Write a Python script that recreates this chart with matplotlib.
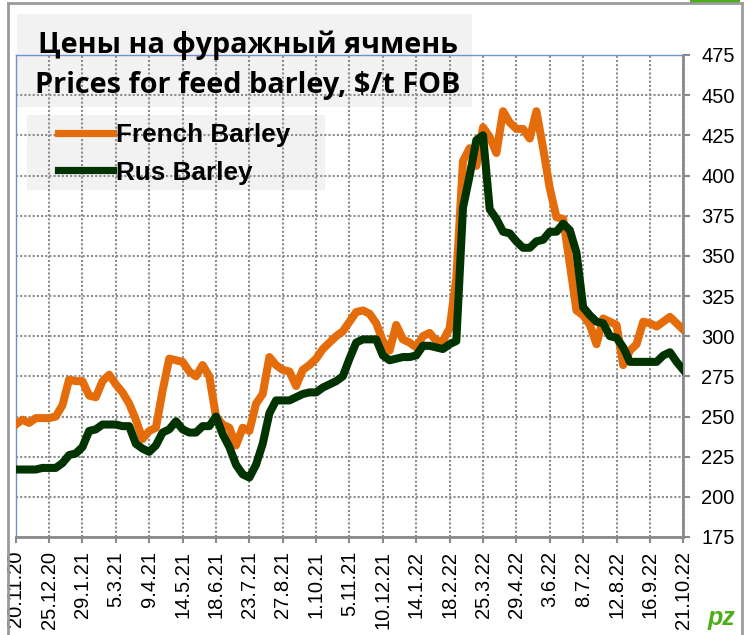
import matplotlib
matplotlib.use("Agg")
import matplotlib.pyplot as plt
from matplotlib.patches import Rectangle
from matplotlib.lines import Line2D

# weekly prices, 20.11.20 .. 21.10.22
french = [245, 248, 246, 249, 249, 249, 250, 257, 273, 272,
          272, 263, 262, 272, 276, 270, 265, 258, 248, 236,
          241, 243, 266, 286, 285, 284, 278, 275, 282, 275,
          250, 245, 243, 232, 243, 241, 258, 264, 287, 282,
          279, 278, 269, 279, 282, 286, 292, 296, 300, 303,
          309, 315, 316, 314, 308, 297, 291, 307, 298, 296,
          293, 300, 302, 297, 297, 305, 336, 409, 417, 406,
          430, 424, 414, 440, 433, 429, 429, 423, 440, 417,
          392, 374, 373, 345, 316, 313, 307, 295, 311, 309,
          307, 282, 291, 295, 309, 308, 306, 309, 312, 308,
          304]
rus = [217, 217, 217, 217, 218, 218, 218, 221, 226, 227,
       231, 241, 242, 245, 245, 245, 244, 244, 233, 230,
       228, 232, 240, 242, 247, 242, 240, 240, 244, 244,
       250, 239, 231, 220, 214, 212, 220, 233, 252, 260,
       260, 260, 262, 264, 265, 265, 268, 270, 272, 275,
       286, 296, 298, 298, 298, 288, 285, 286, 287, 287,
       288, 294, 294, 293, 292, 295, 297, 380, 400, 422,
       425, 379, 373, 365, 364, 359, 355, 355, 359, 360,
       365, 365, 370, 366, 352, 318, 313, 309, 308, 300,
       299, 293, 284, 284, 284, 284, 284, 288, 290, 284,
       279]
date_labels = ['20.11.20', '25.12.20', '29.1.21', '5.3.21', '9.4.21', '14.5.21',
               '18.6.21', '23.7.21', '27.8.21', '1.10.21', '5.11.21', '10.12.21',
               '14.1.22', '18.2.22', '25.3.22', '29.4.22', '3.6.22', '8.7.22',
               '12.8.22', '16.9.22', '21.10.22']
y_ticks = list(range(175, 476, 25))

ORANGE = '#E46C0A'
GREEN = '#003300'
W, H = 752, 635

fig = plt.figure(figsize=(W / 100, H / 100), dpi=100)
ax = fig.add_axes([15.7 / W, 1 - 537 / H, 667.6 / W, 482 / H])
ax.set_facecolor('none')

weeks = list(range(len(french)))
ax.plot(weeks, french, color=ORANGE, lw=5.8, solid_joinstyle='round', zorder=3)
ax.plot(weeks, rus, color=GREEN, lw=5.8, solid_joinstyle='round', zorder=4)

ax.set_xlim(0, len(french) - 1)
ax.set_ylim(175, 475)
ax.set_xticks(range(0, len(french), 5))
ax.set_xticklabels(date_labels, rotation=90, family='Liberation Sans', fontsize=14.5)
ax.set_yticks(y_ticks)
ax.set_yticklabels([str(v) for v in y_ticks], family='Liberation Sans', fontsize=14.5)
ax.yaxis.tick_right()
ax.tick_params(axis='y', direction='out', length=5, width=1.5, color='#8a8a8a', pad=8)
ax.tick_params(axis='x', direction='out', length=4, width=1.5, color='#8a8a8a', pad=6)

ax.grid(True, color='#8c8c8c', lw=1.5, linestyle=(0, (1, 1)), zorder=1)
ax.set_axisbelow(True)
for side in ['left', 'top']:
    ax.spines[side].set_color('#6f95c8')
    ax.spines[side].set_linewidth(1)
for side in ['right', 'bottom']:
    ax.spines[side].set_color('#8a8a8a')
    ax.spines[side].set_linewidth(2)

# boxes behind the grid
fig.patches.append(Rectangle((17 / W, 1 - 107 / H), 455 / W, 93 / H, transform=fig.transFigure,
                             facecolor='#f2f2f2', edgecolor='none', zorder=-2))
fig.patches.append(Rectangle((27 / W, 1 - 190 / H), 298 / W, 75 / H, transform=fig.transFigure,
                             facecolor='#f2f2f2', edgecolor='none', zorder=-1))

# title, fitted to the width of the original lines
renderer = fig.canvas.get_renderer()
for txt, yc, target in [('Цены на фуражный ячмень', 45, 420),
                        ('Prices for feed barley, $/t FOB', 85, 427)]:
    t = fig.text(248 / W, 1 - yc / H, txt, ha='center', va='center', fontsize=20,
                 fontweight='bold', family=['Open Sans', 'DejaVu Sans'])
    w = t.get_window_extent(renderer).width
    t.set_fontsize(20 * target / w)

handles = [Line2D([], [], color=ORANGE, lw=5.2), Line2D([], [], color=GREEN, lw=5.2)]
fig.legend(handles, ['French Barley', 'Rus Barley'], loc='upper left',
           bbox_to_anchor=(58 / W, 1 - 123 / H), frameon=False,
           prop={'family': 'Liberation Sans', 'weight': 'bold', 'size': 18.8},
           handlelength=2.1, handletextpad=0.12, labelspacing=0.52,
           borderpad=0, borderaxespad=0)

# outer frame and logos
frame = dict(color='#9a9a9a', lw=2, transform=fig.transFigure)
fig.lines.append(Line2D([8 / W, 8 / W], [0, 1 - 3 / H], **frame))
fig.lines.append(Line2D([8 / W, 742 / W], [1 - 3 / H, 1 - 3 / H], **frame))
fig.lines.append(Line2D([742 / W, 742 / W], [0, 1 - 3 / H], **frame))
fig.patches.append(Rectangle((690 / W, 1 - 4 / H), 50 / W, 4 / H, transform=fig.transFigure,
                             facecolor='#4caf1a', edgecolor='none'))
fig.text(721 / W, 1 - 618 / H, 'pz', ha='center', va='center', color='#4caf1a',
         fontsize=18, fontweight='bold', style='italic', family='Liberation Sans')

fig.savefig('out.png', dpi=100)
